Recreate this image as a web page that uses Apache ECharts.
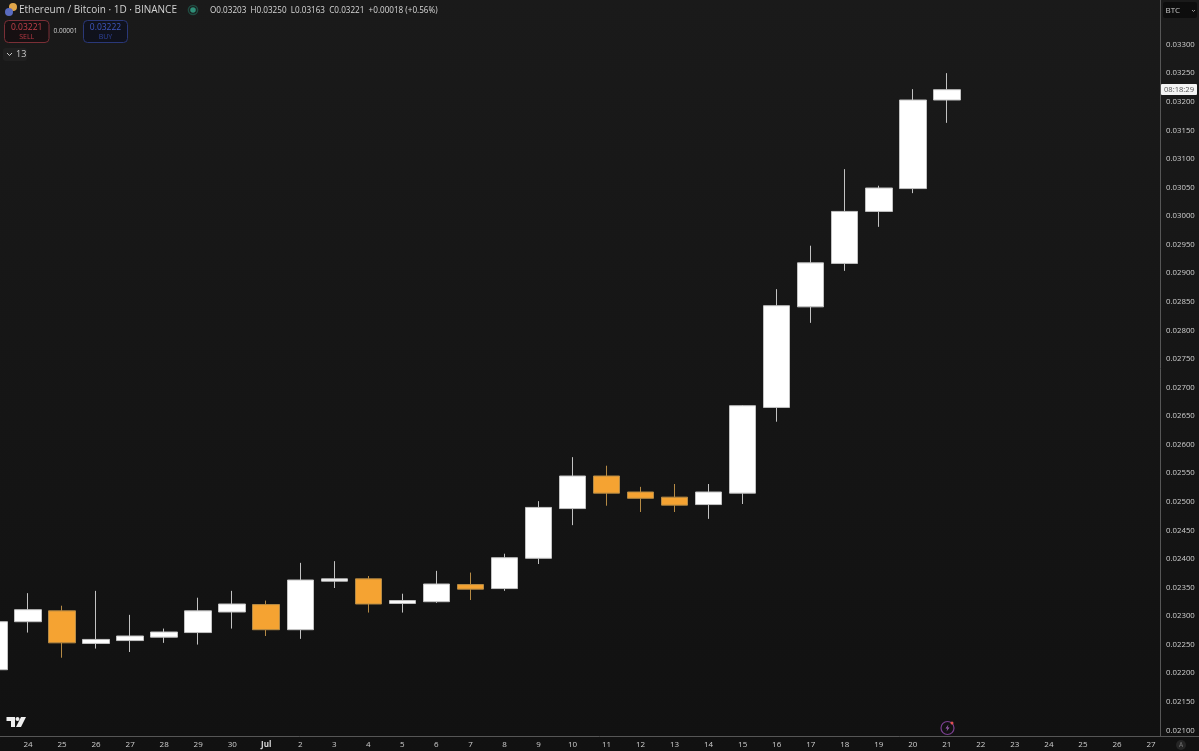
<!DOCTYPE html>
<html>
<head>
<meta charset="utf-8">
<style>html,body{margin:0;padding:0;background:#141414;overflow:hidden}#c{position:absolute;left:-23px;top:0;width:1222px;height:751px}</style>
<script src="https://cdn.jsdelivr.net/npm/echarts@6/dist/echarts.min.js"></script>
</head>
<body>
<div id="c"></div>
<script>
const categories = ['23','24','25','26','27','28','29','30','Jul','2','3','4','5','6','7','8','9','10','11','12','13','14','15','16','17','18','19','20','21','22','23 ','24 ','25 ','26 ','27 '];
const opens  = [0.02206,0.02290,0.02309,0.02252,0.02257,0.02263,0.02271,0.02307,0.02320,0.02276,0.02361,0.02365,0.02322,0.02325,0.02355,0.02348,0.02401,0.02488,0.02545,0.02517,0.02508,0.02495,0.02515,0.02665,0.02841,0.02917,0.03008,0.03048,0.03203];
const closes = [0.02290,0.02311,0.02253,0.02259,0.02265,0.02272,0.02309,0.02321,0.02276,0.02363,0.02365,0.02321,0.02327,0.02356,0.02347,0.02402,0.02490,0.02545,0.02515,0.02506,0.02494,0.02517,0.02668,0.02843,0.02918,0.03008,0.03049,0.03203,0.03221];
const lows   = [0.02206,0.02271,0.02227,0.02243,0.02237,0.02253,0.02250,0.02278,0.02265,0.02260,0.02349,0.02306,0.02306,0.02323,0.02328,0.02344,0.02391,0.02459,0.02493,0.02482,0.02482,0.02470,0.02496,0.02640,0.02813,0.02904,0.02981,0.03040,0.03163];
const highs  = [0.02290,0.02340,0.02318,0.02344,0.02302,0.02278,0.02332,0.02344,0.02327,0.02393,0.02396,0.02370,0.02339,0.02379,0.02376,0.02409,0.02501,0.02578,0.02563,0.02526,0.02531,0.02531,0.02669,0.02872,0.02948,0.03082,0.03053,0.03222,0.03250];
const priceTicks = [0.021,0.0215,0.022,0.0225,0.023,0.0235,0.024,0.0245,0.025,0.0255,0.026,0.0265,0.027,0.0275,0.028,0.0285,0.029,0.0295,0.03,0.0305,0.031,0.0315,0.032,0.0325,0.033];

const candleData = categories.map((_, i) => i < opens.length ? [opens[i], closes[i], lows[i], highs[i]] : ['-','-','-','-']);

const txt = (x, y, text, size, fill, extra) => ({type:'text', x, y, z:20, silent:true, style:Object.assign({text, fontSize:size, fill, fontFamily:'"Open Sans", Roboto, sans-serif', textAlign:'left', textVerticalAlign:'middle'}, extra||{})});
const rect = (x, y, w, h, r, fill, stroke) => ({type:'rect', z:19, silent:true, shape:{x,y,width:w,height:h,r}, style:{fill, stroke, lineWidth:1}});
const line = (x1, y1, x2, y2, stroke, w) => ({type:'line', z:18, silent:true, shape:{x1,y1,x2,y2}, style:{stroke, lineWidth:w||1}});
const circ = (cx, cy, r, fill, stroke, w) => ({type:'circle', z:19, silent:true, shape:{cx,cy,r}, style:{fill, stroke, lineWidth:w||1}});
const poly = (points, fill) => ({type:'polygon', z:19, silent:true, shape:{points}, style:{fill}});
const pline = (points, stroke) => ({type:'polyline', z:21, silent:true, shape:{points}, style:{stroke, fill:'none', lineWidth:1}});

const chrome = [
  line(0,736.5,1199,736.5,'#565656'),
  line(1160.5,0,1160.5,737,'#565656'),
  // symbol icon
  circ(13,7,4,'#e0a64a','none'), circ(9,12,4,'#5a6cc0','none'),
  txt(19,10.5,'Ethereum / Bitcoin · 1D · BINANCE',10,'#d2d2d2'),
  circ(193,10,2.8,'#2f8f78','none'), circ(193,10,4.6,'none','#1f4a40',1.5),
  txt(210,10.5,'O0.03203  H0.03250  L0.03163  C0.03221  +0.00018 (+0.56%)',8.15,'#d8d8d8'),
  // sell / buy
  rect(4.5,20.5,44.5,22,4,'#161012','#7a2f36'),
  txt(26.7,28,'0.03221',8.5,'#c4404a',{textAlign:'center'}),
  txt(26.7,37,'SELL',7,'#b93a44',{textAlign:'center'}),
  txt(65.5,31.5,'0.00001',6.5,'#cfcfcf',{textAlign:'center'}),
  rect(83.5,20.5,44,22,4,'#10121c','#2a3878'),
  txt(105.5,28,'0.03222',8.5,'#3f58c0',{textAlign:'center'}),
  txt(105.5,37,'BUY',7,'#2f439c',{textAlign:'center'}),
  // collapsed indicators
  rect(3,48,24,13,3,'#202020','none'),
  pline([[7,53],[9.5,55.5],[12,53]],'#c8c8c8'),
  txt(16,54.5,'13',9,'#cccccc'),
  // currency
  rect(1163,2,34,16,2,'#0d0d0d','none'),
  txt(1165.5,10.5,'BTC',8,'#c8c8c8'),
  pline([[1192,10],[1193.5,11.5],[1195,10]],'#999'),
  // countdown tag
  rect(1161,84,36,11,1,'#f4f4f4','none'),
  txt(1179,89.8,'08:18:29',7.6,'#555',{textAlign:'center'}),
  // tradingview logo
  poly([[6.5,717],[15,717],[15,727],[11,727],[11,721],[6.5,721]],'#efefef'),
  circ(17.5,719,2,'#efefef','none'),
  poly([[21,717],[26,717],[21,727],[16,727]],'#efefef'),
  // bolt icon
  circ(947.5,728,6.5,'none','#7a3f90',1.2),
  poly([[948.5,724.5],[945.5,728.5],[947.5,728.5],[946.5,731.5],[949.5,727.5],[947.5,727.5]],'#a060b8'),
  circ(952,723,1.5,'#e05050','none'),
  // auto button
  circ(1181,745,5,'#252525','none'),
  txt(1181,745,'A',6.5,'#777',{textAlign:'center'})
];

const option = {
  animation: false,
  backgroundColor: {type:'linear', x:0, y:0, x2:0, y2:1, colorStops:[{offset:0,color:'#1a1a1a'},{offset:1,color:'#111111'}]},
  grid: {left:0, top:0, width:1191, height:736, containLabel:false},
  xAxis: {
    type:'category', data:categories, boundaryGap:true,
    axisLine:{show:false}, axisTick:{show:false}, splitLine:{show:false},
    axisLabel:{
      interval:0, hideOverlap:false, color:'#cfcfcf', fontSize:8, margin:5,
      fontFamily:'"Open Sans", Roboto, sans-serif',
      formatter:v => v === 'Jul' ? '{b|Jul}' : v.trim(),
      rich:{b:{fontWeight:'bold', fontSize:8, color:'#d8d8d8', fontFamily:'"Open Sans", Roboto, sans-serif'}}
    }
  },
  yAxis: {
    type:'value', position:'right', offset:-7, min:0.0209, max:0.03378, scale:true,
    axisLine:{show:false}, axisTick:{show:false}, splitLine:{show:false},
    axisLabel:{
      customValues:priceTicks, color:'#cfcfcf', fontSize:7.8, margin:5,
      fontFamily:'"Open Sans", Roboto, sans-serif',
      formatter:v => v.toFixed(5)
    }
  },
  series: [{
    type:'candlestick', data:candleData, barWidth:27, clip:false,
    itemStyle:{color:'#ffffff', color0:'#f5a332', borderColor:'#c2c2c2', borderColor0:'#b58a45', borderWidth:1}
  }],
  graphic: [{type:'group', x:23, y:0, silent:true, children:chrome}]
};
echarts.init(document.getElementById('c')).setOption(option);
</script>
</body>
</html>
